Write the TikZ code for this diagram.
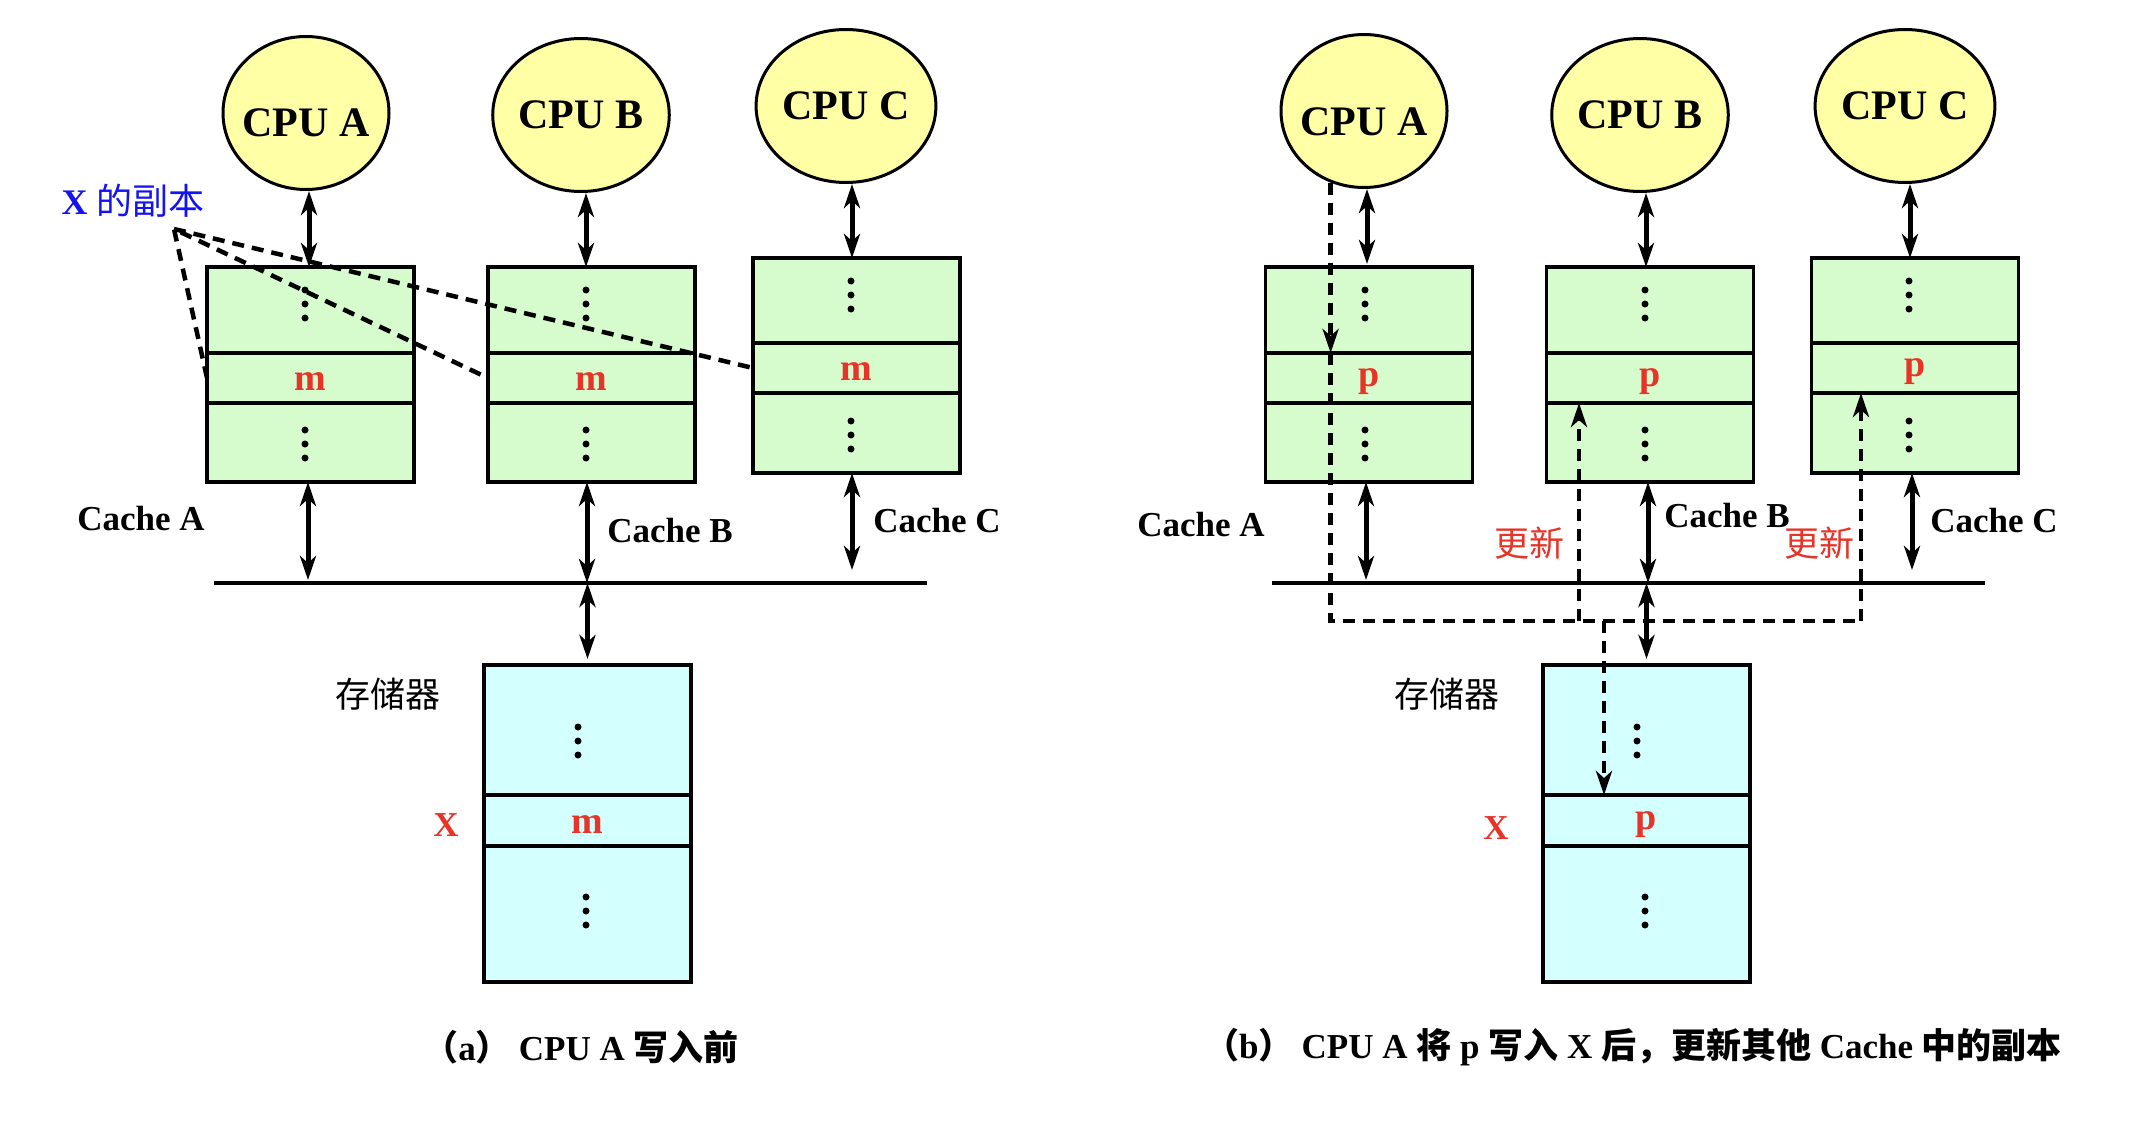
\documentclass[tikz,border=0pt]{standalone}
\usepackage{fontspec}
\setmainfont{Liberation Serif}
\newfontfamily\cjkfont{Noto Sans CJK SC}
\newcommand\zh[1]{{\cjkfont\mdseries #1}}
\newcommand\zhb[1]{{\cjkfont\bfseries #1}}
\usetikzlibrary{arrows.meta,shapes.geometric,calc}
\definecolor{cpuyellow}{RGB}{255,255,166}
\definecolor{cachegreen}{RGB}{214,252,206}
\definecolor{memcyan}{RGB}{212,255,255}
\definecolor{txtred}{RGB}{232,52,40}
\definecolor{txtblue}{RGB}{20,20,240}
\begin{document}
\begin{tikzpicture}[x=1pt,y=-1pt,
  cpu/.style={ellipse,draw,line width=3pt,fill=cpuyellow,minimum width=166pt,minimum height=153pt,inner sep=0pt,font=\fontsize{42pt}{42pt}\selectfont\bfseries},
  cell/.style={rectangle,draw,line width=3.5pt,fill=cachegreen,minimum width=207pt,inner sep=0pt,outer sep=0pt,anchor=north},
  memcell/.style={cell,fill=memcyan},
  val/.style={label={[text=txtred,font=\fontsize{38pt}{38pt}\selectfont\bfseries,yshift=-4pt,inner sep=0pt]center:#1}},
  lbl/.style={font=\fontsize{35pt}{35pt}\selectfont\bfseries,inner sep=0pt},
  zhlbl/.style={font=\fontsize{35pt}{35pt}\selectfont\cjkfont,inner sep=0pt},
  redlbl/.style={lbl,text=txtred},
  dbl/.style={line width=5pt,{Stealth[length=24pt,width=16pt,inset=7pt]}-{Stealth[length=24pt,width=16pt,inset=7pt]}},
  dsh/.style={line width=4.5pt,dash pattern=on 12pt off 8pt},
  dsharrow/.style={dsh,-{Stealth[length=24pt,width=16pt,inset=7pt]}},
  bus/.style={line width=4pt},
  vdots/.pic={\fill (0,-14) circle (3.5pt) (0,0) circle (3.5pt) (0,14) circle (3.5pt);}
]
\fill[white] (0,0) rectangle (2142,1126);
\useasboundingbox (0,0) rectangle (2142,1126);

% ================= LEFT PANEL =================
\node[cpu,label={[font=\fontsize{42pt}{42pt}\selectfont\bfseries,yshift=-10pt]center:CPU A}] (LcpuA) at (306,113) {};
\node[cpu] (LcpuB) at (581,115) {CPU B};
\node[cpu] (LcpuC) at (846,106) {CPU C};

\node[cell,minimum height=86pt] (LAt) at (310.5,267) {};
\node[cell,minimum height=50pt,val=m] (LAm) at (LAt.south) {};
\node[cell,minimum height=79pt] (LAb) at (LAm.south) {};
\node[cell,minimum height=86pt] (LBt) at (591.5,267) {};
\node[cell,minimum height=50pt,val=m] (LBm) at (LBt.south) {};
\node[cell,minimum height=79pt] (LBb) at (LBm.south) {};
\node[cell,minimum height=85pt] (LCt) at (856.5,258) {};
\node[cell,minimum height=50pt,val=m] (LCm) at (LCt.south) {};
\node[cell,minimum height=80pt] (LCb) at (LCm.south) {};

\node[memcell,minimum height=130pt] (LMt) at (587.5,665) {};
\node[memcell,minimum height=51pt,val=m] (LMm) at (LMt.south) {};
\node[memcell,minimum height=136pt] (LMb) at (LMm.south) {};

\pic at (305,304) {vdots};
\pic at (305,444) {vdots};
\pic at (586,304) {vdots};
\pic at (586,444) {vdots};
\pic at (851,295) {vdots};
\pic at (851,435) {vdots};
\pic at (578,741) {vdots};
\pic at (586,911) {vdots};

\coordinate (LbusL) at (214,583);
\coordinate (LbusR) at (927,583);
\draw[bus] (LbusL) -- (LbusR);

\draw[dbl] ([xshift=3pt]LcpuA.south) -- ([xshift=3pt]LcpuA.south |- LAt.north);
\draw[dbl] ([xshift=5pt]LcpuB.south) -- ([xshift=5pt]LcpuB.south |- LBt.north);
\draw[dbl] ([xshift=6pt]LcpuC.south) -- ([xshift=6pt]LcpuC.south |- LCt.north);
\draw[dbl,shorten >=3pt] ([xshift=-2.5pt]LAb.south) -- ([xshift=-2.5pt]LAb.south |- LbusL);
\draw[dbl] ([xshift=-4.5pt]LBb.south) -- ([xshift=-4.5pt]LBb.south |- LbusL);
\draw[dbl,shorten >=13pt] ([xshift=-4.5pt]LCb.south) -- ([xshift=-4.5pt]LCb.south |- LbusL);
\draw[dbl,shorten >=6pt] (LMt.north |- LbusL) -- (LMt.north);

\coordinate (apex) at (174,229);
\draw[dsh] (LAm.west) -- (apex) -- (LBm.west);
\draw[dsh] (apex) -- (LCm.west);

\node[font=\fontsize{36pt}{36pt}\selectfont\bfseries,text=txtblue,inner sep=0pt] (copyX) at (133,201) {X \zh{的副本}};
\node[lbl] (LlabA) at (141,519) {Cache A};
\node[lbl] (LlabB) at (670,531) {Cache B};
\node[lbl] (LlabC) at (937,521) {Cache C};
\node[zhlbl] (LlabM) at (388,694) {存储器};
\node[redlbl] (LlabX) at (446,825) {X};

\node[font=\fontsize{35pt}{35pt}\selectfont\bfseries,inner sep=0pt] (capA) at (581,1047) {\zhb{（}a\zhb{）}\hspace{8pt}CPU A \zhb{写入前}};

% ================= RIGHT PANEL =================
\node[cpu,label={[font=\fontsize{42pt}{42pt}\selectfont\bfseries,yshift=-11pt]center:CPU A}] (RcpuA) at (1364,111) {};
\node[cpu] (RcpuB) at (1640,115) {CPU B};
\node[cpu] (RcpuC) at (1905,106) {CPU C};

\node[cell,minimum height=86pt] (RAt) at (1369,267) {};
\node[cell,minimum height=50pt,val=p] (RAm) at (RAt.south) {};
\node[cell,minimum height=79pt] (RAb) at (RAm.south) {};
\node[cell,minimum height=86pt] (RBt) at (1650,267) {};
\node[cell,minimum height=50pt,val=p] (RBm) at (RBt.south) {};
\node[cell,minimum height=79pt] (RBb) at (RBm.south) {};
\node[cell,minimum height=85pt] (RCt) at (1915,258) {};
\node[cell,minimum height=50pt,val=p] (RCm) at (RCt.south) {};
\node[cell,minimum height=80pt] (RCb) at (RCm.south) {};

\node[memcell,minimum height=130pt] (RMt) at (1646.5,665) {};
\node[memcell,minimum height=51pt,val=p] (RMm) at (RMt.south) {};
\node[memcell,minimum height=136pt] (RMb) at (RMm.south) {};

\pic at (1365,304) {vdots};
\pic at (1365,444) {vdots};
\pic at (1645,304) {vdots};
\pic at (1645,444) {vdots};
\pic at (1909,295) {vdots};
\pic at (1909,435) {vdots};
\pic at (1637,741) {vdots};
\pic at (1645,911) {vdots};

\coordinate (RbusL) at (1272,583);
\coordinate (RbusR) at (1985,583);
\draw[bus] (RbusL) -- (RbusR);

\draw[dbl,shorten >=3pt] ([xshift=3pt]RcpuA.south) -- ([xshift=3pt]RcpuA.south |- RAt.north);
\draw[dbl] ([xshift=6pt]RcpuB.south) -- ([xshift=6pt]RcpuB.south |- RBt.north);
\draw[dbl] ([xshift=5pt]RcpuC.south) -- ([xshift=5pt]RcpuC.south |- RCt.north);
\draw[dbl,shorten >=3pt] ([xshift=-3pt]RAb.south) -- ([xshift=-3pt]RAb.south |- RbusL);
\draw[dbl] ([xshift=-2pt]RBb.south) -- ([xshift=-2pt]RBb.south |- RbusL);
\draw[dbl,shorten >=13pt] ([xshift=-3pt]RCb.south) -- ([xshift=-3pt]RCb.south |- RbusL);
\draw[dbl,shorten >=6pt] (RMt.north |- RbusL) -- (RMt.north);

% update paths
\coordinate (Rjoin) at (1861,621);
\coordinate (RjB) at (1579,621);
\coordinate (RjM) at (1604,621);
\draw[dsharrow] (RcpuA.245) -- (RcpuA.245 |- RAm.north);
\draw[dsh] (RcpuA.245 |- RAm.north) -- (RcpuA.245 |- Rjoin) -- (Rjoin);
\draw[dsharrow] (Rjoin) -- (Rjoin |- RCm.south);
\draw[dsharrow] (RjB) -- (RjB |- RBm.south);
\draw[dsharrow] (RjM) -- (RjM |- RMm.north);

\node[lbl] (RlabA) at (1201,525) {Cache A};
\node[lbl] (RlabB) at (1727,516) {Cache B};
\node[lbl] (RlabC) at (1994,521) {Cache C};
\node[zhlbl,text=txtred] (Rupd1) at (1529,543) {更新};
\node[zhlbl,text=txtred] (Rupd2) at (1819,543) {更新};
\node[zhlbl] (RlabM) at (1447,694) {存储器};
\node[redlbl] (RlabX) at (1496,828) {X};

\node[font=\fontsize{35pt}{35pt}\selectfont\bfseries,inner sep=0pt] (capB) at (1633,1047) {\zhb{（}b\zhb{）}\hspace{8pt}CPU A \zhb{将} p \zhb{写入} X \zhb{后，更新其他} Cache \zhb{中的副本}};
\end{tikzpicture}
\end{document}
